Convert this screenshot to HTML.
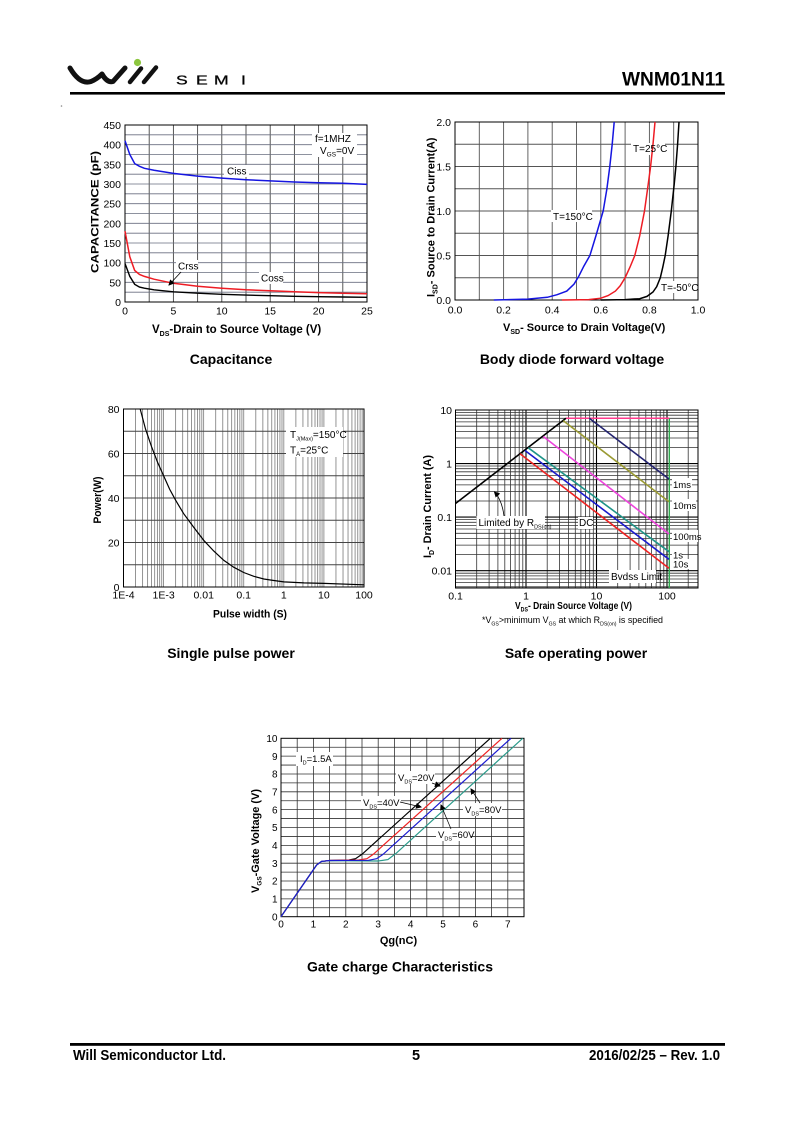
<!DOCTYPE html>
<html>
<head>
<meta charset="utf-8">
<style>
html,body{margin:0;padding:0;background:#fff;}
svg{display:block;}
text{font-family:"Liberation Sans",Arial,sans-serif;fill:#000;}
.b{font-weight:bold;}
.n{font-family:"Liberation Sans Narrow","Liberation Sans",Arial,sans-serif;font-weight:bold;}
</style>
</head>
<body>
<svg width="800" height="1132" viewBox="0 0 800 1132" xmlns="http://www.w3.org/2000/svg">
<defs>
<marker id="ah" markerWidth="6" markerHeight="6" refX="5" refY="3" orient="auto" markerUnits="userSpaceOnUse">
<path d="M0,0 L6,3 L0,6 z" fill="#000"/>
</marker>
</defs>

<!-- HEADER -->
<path d="M70,68 Q80,85 91,81.5 Q97,79 102,74 Q107,83 113,81.5 L125,68" fill="none" stroke="#111" stroke-width="5" stroke-linecap="round" stroke-linejoin="round"/>
<path d="M130,82 L141,68.5 M144,82 L156,67.5" fill="none" stroke="#111" stroke-width="4.5" stroke-linecap="round"/>
<circle cx="137.5" cy="62.5" r="3.6" fill="#8cc63f"/>
<g font-size="13" fill="#222" stroke="#222" stroke-width="0.35">
<text transform="translate(176,84.5) scale(1.35,1)">S</text>
<text transform="translate(196,84.5) scale(1.35,1)">E</text>
<text transform="translate(214,84.5) scale(1.35,1)">M</text>
<text transform="translate(241,84.5) scale(1.35,1)">I</text>
</g>
<text x="622" y="85.5" font-size="19" class="n" textLength="103" lengthAdjust="spacingAndGlyphs">WNM01N11</text>
<rect x="70" y="92" width="655" height="2.6" fill="#000"/>
<circle cx="61.5" cy="106" r="0.8" fill="#888"/>

<!-- ============ CAPACITANCE ============ -->
<rect x="125" y="125" width="242" height="177" fill="#fff"/>
<path d="M149.2 125V302 M173.4 125V302 M197.6 125V302 M221.8 125V302 M246 125V302 M270.2 125V302 M294.4 125V302 M318.6 125V302 M342.8 125V302" stroke="#444" stroke-width="0.9"/>
<path d="M125 292.2H367 M125 282.3H367 M125 272.5H367 M125 262.7H367 M125 252.8H367 M125 243H367 M125 233.2H367 M125 223.3H367 M125 213.5H367 M125 203.7H367 M125 193.8H367 M125 184H367 M125 174.2H367 M125 164.3H367 M125 154.5H367 M125 144.7H367 M125 134.8H367" stroke="#6a6f80" stroke-width="0.8"/>
<rect x="125" y="125" width="242" height="177" fill="none" stroke="#000" stroke-width="1"/>
<rect x="312" y="133" width="45" height="24" fill="#fff"/>
<rect x="224" y="165" width="25" height="12" fill="#fff"/>
<rect x="176" y="260" width="22" height="12" fill="#fff"/>
<rect x="259" y="272" width="24" height="12" fill="#fff"/>
<polyline fill="none" stroke="#1515e0" stroke-width="1.5" points="125,140.7 129.8,154.5 134.7,163.6 139.5,166.3 144.4,168.3 154,170.2 173.4,173.4 197.6,176.1 221.8,178.1 246,179.7 270.2,180.9 294.4,182 318.6,182.8 342.8,183.2 367,184.4"/>
<polyline fill="none" stroke="#ee1c24" stroke-width="1.5" points="125,231.2 129.8,256.8 134.7,270.5 139.5,274.5 144.4,276.4 154,279.2 173.4,283.3 197.6,286.3 221.8,288.2 246,289.8 270.2,290.8 294.4,291.8 318.6,292.6 342.8,293.2 367,293.7"/>
<polyline fill="none" stroke="#000" stroke-width="1.4" points="125,263.5 129.8,276.4 134.7,284.3 139.5,287.1 144.4,288.2 154,289.8 173.4,291.8 197.6,293.2 221.8,294.3 246,295.1 270.2,295.7 294.4,296.3 318.6,296.7 342.8,297 367,297.3"/>
<path d="M181,272 L169,285" stroke="#000" stroke-width="0.8" fill="none" marker-end="url(#ah)"/>
<text x="315" y="142" font-size="10">f=1MHZ</text>
<text x="320" y="154" font-size="10">V<tspan font-size="6.5" dy="2.5">GS</tspan><tspan dy="-2.5">=0V</tspan></text>
<text x="227" y="174.5" font-size="10">Ciss</text>
<text x="178" y="269.5" font-size="10">Crss</text>
<text x="261" y="281.5" font-size="10">Coss</text>
<g font-size="10.5" text-anchor="end">
<text x="121" y="129">450</text><text x="121" y="148.7">400</text><text x="121" y="168.3">350</text><text x="121" y="188">300</text><text x="121" y="207.7">250</text><text x="121" y="227.3">200</text><text x="121" y="247">150</text><text x="121" y="266.7">100</text><text x="121" y="286.3">50</text><text x="121" y="306">0</text>
</g>
<g font-size="10.5" text-anchor="middle">
<text x="125" y="314.5">0</text><text x="173.4" y="314.5">5</text><text x="221.8" y="314.5">10</text><text x="270.2" y="314.5">15</text><text x="318.6" y="314.5">20</text><text x="367" y="314.5">25</text>
</g>
<text transform="translate(98.5,212) rotate(-90)" text-anchor="middle" font-size="11" class="b" textLength="122" lengthAdjust="spacingAndGlyphs">CAPACITANCE (pF)</text>
<text x="152" y="333" font-size="11.5" class="b">V<tspan font-size="7" dy="3">DS</tspan><tspan dy="-3">-Drain to Source Voltage (V)</tspan></text>
<text x="231" y="364" font-size="14" class="b" text-anchor="middle">Capacitance</text>

<!-- ============ BODY DIODE ============ -->
<path d="M479.3 122V300 M503.6 122V300 M527.9 122V300 M552.2 122V300 M576.5 122V300 M600.8 122V300 M625.1 122V300 M649.4 122V300 M673.7 122V300" stroke="#555" stroke-width="0.9"/>
<path d="M455 277.75H698 M455 255.5H698 M455 233.25H698 M455 211H698 M455 188.75H698 M455 166.5H698 M455 144.25H698" stroke="#555" stroke-width="0.9"/>
<rect x="455" y="122" width="243" height="178" fill="none" stroke="#000" stroke-width="1"/>
<rect x="631" y="143" width="34" height="12" fill="#fff"/>
<rect x="551" y="210" width="41" height="12" fill="#fff"/>
<rect x="658" y="281" width="37" height="12" fill="#fff"/>
<polyline fill="none" stroke="#1515e0" stroke-width="1.5" points="493.9,300 527.9,299.1 547.3,297.3 557.1,294.7 566.8,291.1 574.1,284 578.9,276 583.8,266.2 589.9,255.5 595.9,235.9 603.2,211 606.9,188.75 609.8,166.5 612.2,144.25 614.2,122"/>
<polyline fill="none" stroke="#ee1c24" stroke-width="1.5" points="561.9,300 588.7,299.6 600.8,298.2 608.1,295.6 615.4,291.1 620.2,285.8 625.1,277.75 630,267.1 634.8,255.5 639.7,235.9 644.5,211 648.2,184.3 650.6,166.5 653,144.25 655,122"/>
<polyline fill="none" stroke="#000" stroke-width="1.5" points="600.8,300 625.1,299.6 639.7,298.7 647,296.4 653,292 656.7,286.65 660.3,277.75 662.8,267.1 665.2,255.5 668.1,235.9 671.3,211 674.2,184.3 675.9,166.5 677.6,144.25 679,122"/>
<text x="633" y="152" font-size="10">T=25°C</text>
<text x="553" y="220" font-size="10">T=150°C</text>
<text x="661" y="291" font-size="10">T=-50°C</text>
<g font-size="10.5" text-anchor="end">
<text x="451" y="126">2.0</text><text x="451" y="170.5">1.5</text><text x="451" y="215">1.0</text><text x="451" y="259.5">0.5</text><text x="451" y="304">0.0</text>
</g>
<g font-size="10.5" text-anchor="middle">
<text x="455" y="313.5">0.0</text><text x="503.6" y="313.5">0.2</text><text x="552.2" y="313.5">0.4</text><text x="600.8" y="313.5">0.6</text><text x="649.4" y="313.5">0.8</text><text x="698" y="313.5">1.0</text>
</g>
<text transform="translate(434.5,297) rotate(-90)" font-size="11" class="b">I<tspan font-size="7" dy="3">SD</tspan><tspan dy="-3">- Source to Drain Current(A)</tspan></text>
<text x="503" y="331" font-size="11" class="b">V<tspan font-size="7" dy="3">SD</tspan><tspan dy="-3">- Source to Drain Voltage(V)</tspan></text>
<text x="572" y="364" font-size="14" class="b" text-anchor="middle">Body diode forward voltage</text>

<!-- ============ SINGLE PULSE POWER ============ -->
<path d="M135.56 409V587 M142.62 409V587 M147.63 409V587 M151.52 409V587 M154.69 409V587 M157.37 409V587 M159.69 409V587 M161.74 409V587 M163.58 409V587 M175.64 409V587 M182.7 409V587 M187.71 409V587 M191.6 409V587 M194.77 409V587 M197.45 409V587 M199.77 409V587 M201.82 409V587 M203.66 409V587 M215.72 409V587 M222.78 409V587 M227.79 409V587 M231.68 409V587 M234.85 409V587 M237.53 409V587 M239.85 409V587 M241.9 409V587 M243.74 409V587 M255.8 409V587 M262.86 409V587 M267.87 409V587 M271.76 409V587 M274.93 409V587 M277.61 409V587 M279.93 409V587 M281.98 409V587 M283.82 409V587 M295.88 409V587 M302.94 409V587 M307.95 409V587 M311.84 409V587 M315.01 409V587 M317.69 409V587 M320.01 409V587 M322.06 409V587 M323.9 409V587 M335.96 409V587 M343.02 409V587 M348.03 409V587 M351.92 409V587 M355.09 409V587 M357.77 409V587 M360.09 409V587 M362.14 409V587" stroke="#7a7a7a" stroke-width="0.8"/>
<path d="M123.5 564.75H364 M123.5 542.5H364 M123.5 520.25H364 M123.5 498H364 M123.5 475.75H364 M123.5 453.5H364 M123.5 431.25H364" stroke="#444" stroke-width="0.9"/>
<rect x="123.5" y="409" width="240.5" height="178" fill="none" stroke="#000" stroke-width="1"/>
<rect x="286" y="427" width="57" height="30" fill="#fff"/>
<polyline fill="none" stroke="#000" stroke-width="1.2" points="140.2,409 145.5,429 151.6,446.8 157.6,462.4 163.6,475.75 169.6,489.1 175.6,500.2 183.6,513.6 193.6,527.1 203.7,540.3 213.7,551 223.7,560.3 233.7,567.2 243.7,572.5 253.8,576.3 263.8,579 273.8,580.5 283.8,581.9 303.9,582.9 323.9,583.4 364,584.8"/>
<text x="290" y="438" font-size="10">T<tspan font-size="5.5" dy="2.5">J(Max)</tspan><tspan dy="-2.5">=150°C</tspan></text>
<text x="290" y="453.5" font-size="10">T<tspan font-size="6" dy="2.5">A</tspan><tspan dy="-2.5">=25°C</tspan></text>
<g font-size="10.5" text-anchor="end">
<text x="119.5" y="413">80</text><text x="119.5" y="457.5">60</text><text x="119.5" y="502">40</text><text x="119.5" y="546.5">20</text><text x="119.5" y="591">0</text>
</g>
<g font-size="10.5" text-anchor="middle">
<text x="123.5" y="598.5">1E-4</text><text x="163.6" y="598.5">1E-3</text><text x="203.7" y="598.5">0.01</text><text x="243.7" y="598.5">0.1</text><text x="283.8" y="598.5">1</text><text x="323.9" y="598.5">10</text><text x="364" y="598.5">100</text>
</g>
<text transform="translate(101,500) rotate(-90)" text-anchor="middle" font-size="11" class="b" textLength="47" lengthAdjust="spacingAndGlyphs">Power(W)</text>
<text x="250" y="617.5" font-size="11" class="b" text-anchor="middle" textLength="74" lengthAdjust="spacingAndGlyphs">Pulse width (S)</text>
<text x="231" y="658" font-size="14" class="b" text-anchor="middle">Single pulse power</text>

<!-- ============ SAFE OPERATING AREA ============ -->
<path d="M476.7 410V588 M489.1 410V588 M497.9 410V588 M504.8 410V588 M510.4 410V588 M515.1 410V588 M519.2 410V588 M522.8 410V588 M547.2 410V588 M559.6 410V588 M568.4 410V588 M575.3 410V588 M580.9 410V588 M585.6 410V588 M589.7 410V588 M593.3 410V588 M617.7 410V588 M630.1 410V588 M638.9 410V588 M645.8 410V588 M651.4 410V588 M656.1 410V588 M660.2 410V588 M663.8 410V588 M688.2 410V588" stroke="#333" stroke-width="0.8"/>
<path d="M526 410V588 M596.5 410V588 M667 410V588" stroke="#000" stroke-width="1.1"/>
<path d="M455.5 412.5H698 M455.5 415.2H698 M455.5 418.3H698 M455.5 421.9H698 M455.5 426.2H698 M455.5 431.4H698 M455.5 438H698 M455.5 447.5H698 M455.5 466H698 M455.5 468.7H698 M455.5 471.8H698 M455.5 475.4H698 M455.5 479.7H698 M455.5 484.9H698 M455.5 491.5H698 M455.5 501H698 M455.5 519.6H698 M455.5 522.3H698 M455.5 525.4H698 M455.5 529H698 M455.5 533.3H698 M455.5 538.5H698 M455.5 545.1H698 M455.5 554.6H698 M455.5 573.2H698 M455.5 575.9H698 M455.5 579H698 M455.5 582.6H698 M455.5 586.8H698" stroke="#333" stroke-width="0.8"/>
<path d="M455.5 463.6H698 M455.5 517.1H698 M455.5 570.7H698" stroke="#000" stroke-width="1.1"/>
<rect x="455.5" y="410" width="242.5" height="178" fill="none" stroke="#000" stroke-width="1"/>
<rect x="476.5" y="516" width="68.5" height="13" fill="#fff"/>
<rect x="578" y="517" width="15" height="12" fill="#fff"/>
<rect x="609" y="570" width="47" height="13" fill="#fff"/>
<rect x="672" y="478" width="20" height="12" fill="#fff"/>
<rect x="672" y="499" width="24" height="12" fill="#fff"/>
<rect x="672" y="530" width="26" height="12" fill="#fff"/>
<rect x="672" y="549.5" width="10" height="9.5" fill="#fff"/>
<rect x="672" y="559" width="17" height="10" fill="#fff"/>
<line x1="669.3" y1="418.3" x2="669.3" y2="588" stroke="#2fa84f" stroke-width="1.4"/>
<line x1="566" y1="418.3" x2="669.3" y2="418.3" stroke="#ff3a8c" stroke-width="1.5"/>
<line x1="455.5" y1="503.5" x2="566" y2="418.3" stroke="#000" stroke-width="1.6"/>
<line x1="589.3" y1="418.3" x2="669" y2="479" stroke="#232370" stroke-width="1.6"/>
<line x1="563.3" y1="420.8" x2="669" y2="501.7" stroke="#9a9a33" stroke-width="1.6"/>
<line x1="543.3" y1="436.5" x2="669" y2="534" stroke="#ee44dd" stroke-width="1.6"/>
<line x1="528.3" y1="447.8" x2="669" y2="551.7" stroke="#1f9488" stroke-width="1.6"/>
<line x1="525" y1="450.5" x2="669" y2="559.3" stroke="#1a1acc" stroke-width="1.6"/>
<line x1="520" y1="453.8" x2="669" y2="568.3" stroke="#ee2222" stroke-width="1.6"/>
<path d="M504,516 Q502,500 494.5,492" fill="none" stroke="#000" stroke-width="0.8" marker-end="url(#ah)"/>
<text x="478.5" y="526" font-size="10">Limited by R<tspan font-size="5.5" dy="2.5">DS(on)</tspan></text>
<text x="579" y="526" font-size="10">DC</text>
<text x="611" y="580" font-size="10">Bvdss Limit</text>
<g font-size="9.5">
<text x="673" y="488">1ms</text>
<text x="673" y="509">10ms</text>
<text x="673" y="540">100ms</text>
<text x="673" y="558.5">1s</text>
<text x="673" y="567.5">10s</text>
</g>
<g font-size="10.5" text-anchor="end">
<text x="452" y="414">10</text><text x="452" y="467.6">1</text><text x="452" y="521">0.1</text><text x="452" y="574.7">0.01</text>
</g>
<g font-size="10.5" text-anchor="middle">
<text x="455.5" y="599.5">0.1</text><text x="526" y="599.5">1</text><text x="596.5" y="599.5">10</text><text x="667" y="599.5">100</text>
</g>
<text transform="translate(431,558) rotate(-90)" font-size="11" class="b" textLength="103" lengthAdjust="spacingAndGlyphs">I<tspan font-size="7" dy="3">D</tspan><tspan dy="-3">- Drain Current (A)</tspan></text>
<text x="515" y="609" font-size="10.5" class="b" textLength="117" lengthAdjust="spacingAndGlyphs">V<tspan font-size="6.5" dy="2.5">DS</tspan><tspan dy="-2.5">- Drain Source Voltage (V)</tspan></text>
<text x="482" y="623" font-size="9.5" textLength="181" lengthAdjust="spacingAndGlyphs">*V<tspan font-size="5.5" dy="2.5">GS</tspan><tspan dy="-2.5">&gt;minimum V</tspan><tspan font-size="5.5" dy="2.5">GS</tspan><tspan dy="-2.5"> at which R</tspan><tspan font-size="5.5" dy="2.5">DS(on)</tspan><tspan dy="-2.5"> is specified</tspan></text>
<text x="576" y="658" font-size="14" class="b" text-anchor="middle">Safe operating power</text>

<!-- ============ GATE CHARGE ============ -->
<path d="M297.2 738.3V916.7 M313.4 738.3V916.7 M329.6 738.3V916.7 M345.8 738.3V916.7 M362 738.3V916.7 M378.2 738.3V916.7 M394.4 738.3V916.7 M410.6 738.3V916.7 M426.8 738.3V916.7 M443 738.3V916.7 M459.2 738.3V916.7 M475.4 738.3V916.7 M491.6 738.3V916.7 M507.8 738.3V916.7" stroke="#333" stroke-width="0.8"/>
<path d="M281 907.78H524 M281 898.86H524 M281 889.94H524 M281 881.02H524 M281 872.1H524 M281 863.18H524 M281 854.26H524 M281 845.34H524 M281 836.42H524 M281 827.5H524 M281 818.58H524 M281 809.66H524 M281 800.74H524 M281 791.82H524 M281 782.9H524 M281 773.98H524 M281 765.06H524 M281 756.14H524 M281 747.22H524" stroke="#333" stroke-width="0.8"/>
<rect x="281" y="738.3" width="243" height="178.4" fill="none" stroke="#000" stroke-width="1"/>
<rect x="296" y="752" width="37" height="14" fill="#fff"/>
<rect x="396" y="771" width="39" height="13" fill="#fff"/>
<rect x="361" y="796" width="40" height="13" fill="#fff"/>
<rect x="463" y="803" width="39" height="13" fill="#fff"/>
<rect x="436" y="828" width="35" height="13" fill="#fff"/>
<polyline fill="none" stroke="#000" stroke-width="1.2" points="281,916.7 316.6,865 321.5,861.4 329.6,860.5 349,860 355.5,858.7 362,854.3 490.3,738.3"/>
<polyline fill="none" stroke="#ee2222" stroke-width="1.2" points="281,916.7 316.6,865 321.5,861.4 329.6,860.5 358.8,860 366.9,858.7 373.3,854.3 502,738.3"/>
<polyline fill="none" stroke="#2a9a8a" stroke-width="1.2" points="281,916.7 316.6,865 321.5,861.4 329.6,860.7 378.2,861 387.9,859.6 396,853.4 522.7,738.3"/>
<polyline fill="none" stroke="#1a1ad0" stroke-width="1.2" points="281,916.7 316.6,865 321.5,861.4 329.6,860.5 368.5,860.3 376.6,858.7 383.1,854.3 511,738.3"/>
<g stroke="#000" stroke-width="0.7" fill="none">
<path d="M432,783 L440,786" marker-end="url(#ah)"/>
<path d="M400,802 L421,807" marker-end="url(#ah)"/>
<path d="M480,803 L471,789" marker-end="url(#ah)"/>
<path d="M451,829 L441,805" marker-end="url(#ah)"/>
</g>
<text x="300" y="762" font-size="9.5">I<tspan font-size="5.5" dy="2.5">D</tspan><tspan dy="-2.5">=1.5A</tspan></text>
<text x="398" y="781" font-size="9.5">V<tspan font-size="5.5" dy="2.5">DS</tspan><tspan dy="-2.5">=20V</tspan></text>
<text x="363" y="806" font-size="9.5">V<tspan font-size="5.5" dy="2.5">DS</tspan><tspan dy="-2.5">=40V</tspan></text>
<text x="465" y="813" font-size="9.5">V<tspan font-size="5.5" dy="2.5">DS</tspan><tspan dy="-2.5">=80V</tspan></text>
<text x="438" y="838" font-size="9.5">V<tspan font-size="5.5" dy="2.5">DS</tspan><tspan dy="-2.5">=60V</tspan></text>
<g font-size="10" text-anchor="end">
<text x="277.5" y="742">10</text><text x="277.5" y="759.8">9</text><text x="277.5" y="777.6">8</text><text x="277.5" y="795.5">7</text><text x="277.5" y="813.3">6</text><text x="277.5" y="831.2">5</text><text x="277.5" y="849">4</text><text x="277.5" y="866.8">3</text><text x="277.5" y="884.7">2</text><text x="277.5" y="902.5">1</text><text x="277.5" y="920.3">0</text>
</g>
<g font-size="10" text-anchor="middle">
<text x="281" y="927.5">0</text><text x="313.4" y="927.5">1</text><text x="345.8" y="927.5">2</text><text x="378.2" y="927.5">3</text><text x="410.6" y="927.5">4</text><text x="443" y="927.5">5</text><text x="475.4" y="927.5">6</text><text x="507.8" y="927.5">7</text>
</g>
<text transform="translate(259,893) rotate(-90)" font-size="11" class="b" textLength="104" lengthAdjust="spacingAndGlyphs">V<tspan font-size="6.5" dy="2.5">GS</tspan><tspan dy="-2.5">-Gate Voltage (V)</tspan></text>
<text x="398.5" y="944" font-size="11" class="b" text-anchor="middle">Qg(nC)</text>
<text x="400" y="971.5" font-size="14" class="b" text-anchor="middle">Gate charge Characteristics</text>

<!-- FOOTER -->
<rect x="70" y="1043" width="655" height="2.8" fill="#000"/>
<text x="73" y="1060" font-size="14.5" class="n" textLength="153" lengthAdjust="spacingAndGlyphs">Will Semiconductor Ltd.</text>
<text x="416" y="1060" font-size="14.5" class="n" text-anchor="middle">5</text>
<text x="589" y="1060" font-size="14.5" class="n" textLength="131" lengthAdjust="spacingAndGlyphs">2016/02/25 – Rev. 1.0</text>
</svg>
</body>
</html>
